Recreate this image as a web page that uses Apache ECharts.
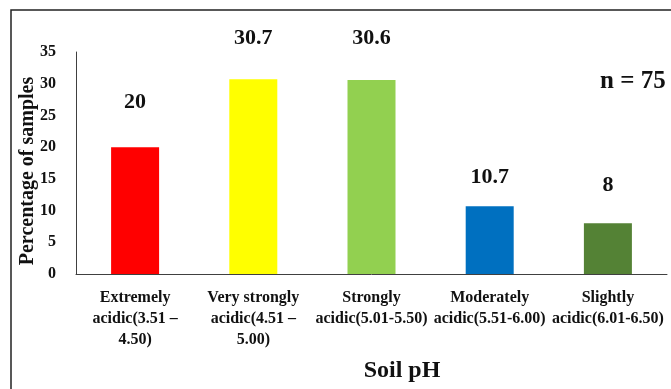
<!DOCTYPE html>
<html>
<head>
<meta charset="utf-8">
<script src="https://cdn.jsdelivr.net/npm/echarts@6/dist/echarts.min.js"></script>
<style>
  html, body { margin: 0; padding: 0; background: #fff; }
  #chart { width: 671px; height: 389px; }
</style>
</head>
<body>
<div id="chart"></div>
<script>
// Soil pH classes (x-axis categories)
const categories = [
  'Extremely\nacidic(3.51 –\n4.50)',
  'Very strongly\nacidic(4.51 –\n5.00)',
  'Strongly\nacidic(5.01-5.50)',
  'Moderately\nacidic(5.51-6.00)',
  'Slightly\nacidic(6.01-6.50)'
];
// Percentage of samples in each class
const percentages = [20, 30.7, 30.6, 10.7, 8];
const barColors = ['#FF0000', '#FFFF00', '#92D050', '#0070C0', '#548235'];
// Gap between each bar top and its value label
const labelGaps = [34, 30, 31, 18, 27];
const yTicks = { min: 0, max: 35, interval: 5 };

const font = '"Liberation Serif", "Times New Roman", serif';

const chart = echarts.init(document.getElementById('chart'));
chart.setOption({
  animation: false,
  backgroundColor: '#fff',
  grid: { left: 76, right: 4, top: 52, bottom: 115, containLabel: false },
  xAxis: {
    type: 'category',
    data: categories,
    axisLine: { lineStyle: { color: '#404040', width: 1 } },
    axisTick: { show: false },
    axisLabel: {
      interval: 0,
      margin: 13,
      fontFamily: font,
      fontWeight: 'bold',
      fontSize: 16,
      lineHeight: 21,
      color: '#111'
    }
  },
  yAxis: {
    type: 'value',
    min: yTicks.min,
    max: yTicks.max,
    interval: yTicks.interval,
    splitLine: { show: false },
    axisTick: { show: false },
    axisLine: { show: true, lineStyle: { color: '#404040', width: 1 } },
    axisLabel: {
      margin: 20,
      fontFamily: font,
      fontWeight: 'bold',
      fontSize: 16,
      color: '#111'
    }
  },
  series: [{
    type: 'bar',
    barWidth: 48,
    data: percentages.map((v, i) => ({
      value: v,
      itemStyle: { color: barColors[i] },
      label: { distance: labelGaps[i] }
    })),
    label: {
      show: true,
      position: 'top',
      fontFamily: font,
      fontWeight: 'bold',
      fontSize: 22,
      color: '#111'
    }
  }],
  graphic: [
    {
      type: 'rect',
      shape: { x: 11, y: 10, width: 720, height: 430 },
      style: { fill: 'none', stroke: '#222', lineWidth: 1.5 },
      silent: true
    },
    {
      type: 'text',
      x: 28, y: 171,
      rotation: Math.PI / 2,
      style: {
        text: 'Percentage of samples',
        font: 'bold 20px ' + font,
        fill: '#111',
        align: 'center',
        verticalAlign: 'middle'
      }
    },
    {
      type: 'text',
      x: 402, y: 371,
      style: {
        text: 'Soil pH',
        font: 'bold 24px ' + font,
        fill: '#111',
        align: 'center',
        verticalAlign: 'middle'
      }
    },
    {
      type: 'text',
      x: 600, y: 82,
      style: {
        text: 'n = 75',
        font: 'bold 25px ' + font,
        fill: '#111',
        align: 'left',
        verticalAlign: 'middle'
      }
    }
  ]
});
</script>
</body>
</html>
